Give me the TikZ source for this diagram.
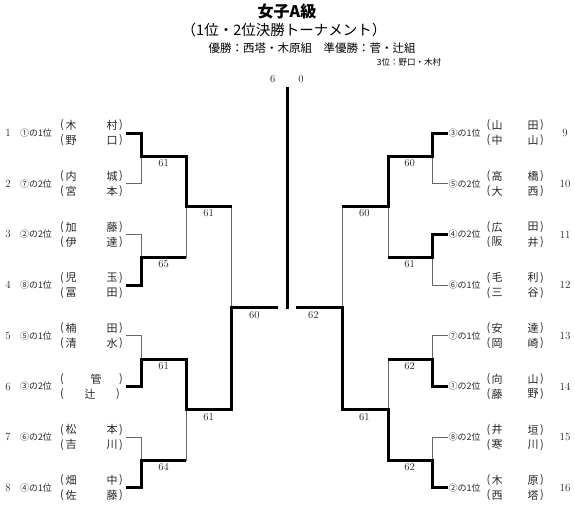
\documentclass[tikz,border=0pt]{standalone}
\usepackage{fontspec}
\newfontfamily\jp{Noto Sans CJK JP}
\begin{document}
\begin{tikzpicture}[x=1pt,y=-1pt,
  thinl/.style={line width=0.9pt,black!60},
  thickl/.style={line width=3pt,black,line join=miter},
  score/.style={font=\fontsize{10.5}{11}\selectfont,inner sep=0pt,text=black!85},
  seed/.style={font=\jp\fontsize{9}{10}\selectfont,inner sep=0pt,text=black!85},
  nm/.style={font=\jp\fontsize{11}{12}\selectfont,inner sep=0pt,text=black!85},
  num/.style={font=\fontsize{11}{12}\selectfont,inner sep=0pt,text=black!85},
]
\useasboundingbox (0,0) rectangle (575,508);

% ---------- titles ----------
\node[font=\jp\bfseries\fontsize{16}{18}\selectfont,inner sep=0pt] (t1) at (287,11) {女子A級};
\node[font=\jp\fontsize{14.5}{16}\selectfont,inner sep=0pt] (t2) at (284,30) {（1位・2位決勝トーナメント）};
\node[font=\jp\fontsize{11.5}{13}\selectfont,inner sep=0pt] (t3) at (312,48) {優勝：西塔・木原組　準優勝：菅・辻組};
\node[font=\jp\fontsize{8.5}{10}\selectfont,inner sep=0pt] (t4) at (409,62) {3位：野口・木村};

% ---------- left entries ----------
\foreach \k/\y/\s/\a/\b/\c/\d in {
  1/133/①の1位/木/村/野/口,
  2/183.7/⑦の2位/内/城/宮/本,
  3/234.4/②の2位/加/藤/伊/達,
  4/285.1/⑧の1位/児/玉/冨/田,
  5/335.8/⑤の1位/楠/田/清/水,
  7/437.2/⑥の2位/松/本/吉/川,
  8/487.9/④の1位/畑/中/佐/藤}{
  \node[num] (ln\k) at (8,\y) {\k};
  \node[seed] (ls\k) at (36,\y) {\s};
  \node[nm] (lpa\k) at (62,\y-7.5) {(};
  \node[nm] (lca\k) at (71,\y-7.5) {\a};
  \node[nm] (lcb\k) at (112,\y-7.5) {\b};
  \node[nm] (lpb\k) at (121,\y-7.5) {)};
  \node[nm] (lpc\k) at (62,\y+7.5) {(};
  \node[nm] (lcc\k) at (71,\y+7.5) {\c};
  \node[nm] (lcd\k) at (112,\y+7.5) {\d};
  \node[nm] (lpd\k) at (121,\y+7.5) {)};
  \coordinate (L\k) at (126,\y);
}
% team 6 (single-character names)
\node[num] (ln6) at (8,386.5) {6};
\node[seed] (ls6) at (36,386.5) {③の2位};
\node[nm] (lpa6) at (62,379) {(};
\node[nm] (lca6) at (96,379) {管};
\node[nm] (lpb6) at (121,379) {)};
\node[nm] (lpc6) at (62,394) {(};
\node[nm] (lcc6) at (90,394) {辻};
\node[nm] (lpd6) at (118,394) {)};
\coordinate (L6) at (126,386.5);

% ---------- right entries ----------
\foreach \k/\y/\s/\a/\b/\c/\d in {
  9/133/③の1位/山/田/中/山,
  10/183.7/⑤の2位/高/橋/大/西,
  11/234.4/④の2位/広/田/阪/井,
  12/285.1/⑥の1位/毛/利/三/谷,
  13/335.8/⑦の1位/安/達/岡/崎,
  14/386.5/①の2位/向/山/藤/野,
  15/437.2/⑧の2位/井/垣/寒/川,
  16/487.9/②の1位/木/原/西/塔}{
  \node[num] (rn\k) at (565,\y) {\k};
  \node[seed,anchor=west] (rs\k) at (448.5,\y) {\s};
  \node[nm] (rpa\k) at (488.5,\y-7.5) {(};
  \node[nm] (rca\k) at (497,\y-7.5) {\a};
  \node[nm] (rcb\k) at (533,\y-7.5) {\b};
  \node[nm] (rpb\k) at (542,\y-7.5) {)};
  \node[nm] (rpc\k) at (488.5,\y+7.5) {(};
  \node[nm] (rcc\k) at (497,\y+7.5) {\c};
  \node[nm] (rcd\k) at (533,\y+7.5) {\d};
  \node[nm] (rpd\k) at (542,\y+7.5) {)};
  \coordinate (R\k) at (448,\y);
}

% ---------- junction coordinates ----------
\coordinate (M1) at (141.7,156.4);
\coordinate (M2) at (141.7,257.7);
\coordinate (M3) at (141.7,359.2);
\coordinate (M4) at (141.7,460.5);
\coordinate (N1) at (186,206);
\coordinate (N2) at (186,409);
\coordinate (P1) at (231.7,307.5);
\coordinate (F1) at (277.7,307.5);

\coordinate (MR1) at (432.3,156.4);
\coordinate (MR2) at (432.3,257.7);
\coordinate (MR3) at (432.3,359.2);
\coordinate (MR4) at (432.3,460.5);
\coordinate (NR1) at (388,206);
\coordinate (NR2) at (388,409);
\coordinate (PR1) at (342.3,307.5);
\coordinate (FR1) at (296.3,307.5);

\coordinate (C0) at (287,87);
\coordinate (C1) at (287,308.5);

% ---------- thin (losing) lines ----------
\draw[thinl] (L2) -- (L2 -| M1) -- (M1);
\draw[thinl] (L3) -- (L3 -| M2) -- (M2);
\draw[thinl] (L5) -- (L5 -| M3) -- (M3);
\draw[thinl] (L7) -- (L7 -| M4) -- (M4);
\draw[thinl] (M2 -| N1) -- (N1);
\draw[thinl] (M4 -| N2) -- (N2);
\draw[thinl] (N1 -| P1) -- (P1);

\draw[thinl] (R10) -- (R10 -| MR1) -- (MR1);
\draw[thinl] (R12) -- (R12 -| MR2) -- (MR2);
\draw[thinl] (R13) -- (R13 -| MR3) -- (MR3);
\draw[thinl] (R15) -- (R15 -| MR4) -- (MR4);
\draw[thinl] (MR2 -| NR1) -- (NR1);
\draw[thinl] (MR3 -| NR2) -- (NR2);
\draw[thinl] (NR1 -| PR1) -- (PR1);

% ---------- thick (winning) lines ----------
\draw[thickl] (L1) -- (L1 -| M1) -- (M1) -- (M1 -| N1) -- (N1) -- (N1 -| P1);
\draw[thickl] (L4) -- (L4 -| M2) -- (M2) -- (M2 -| N1);
\draw[thickl] (L6) -- (L6 -| M3) -- (M3) -- (M3 -| N2) -- (N2) -- (N2 -| P1) -- (P1) -- (F1);
\draw[thickl] (L8) -- (L8 -| M4) -- (M4) -- (M4 -| N2);

\draw[thickl] (R9) -- (R9 -| MR1) -- (MR1) -- (MR1 -| NR1) -- (NR1) -- (NR1 -| PR1);
\draw[thickl] (R11) -- (R11 -| MR2) -- (MR2) -- (MR2 -| NR1);
\draw[thickl] (R14) -- (R14 -| MR3) -- (MR3) -- (MR3 -| NR2);
\draw[thickl] (R16) -- (R16 -| MR4) -- (MR4) -- (MR4 -| NR2) -- (NR2) -- (NR2 -| PR1) -- (PR1) -- (FR1);

\draw[thickl] (C0) -- (C1);

% ---------- scores ----------
\node[score] (s1) at (163.5,163) {61};
\node[score] (s2) at (163.5,264.5) {65};
\node[score] (s3) at (163.5,366) {61};
\node[score] (s4) at (163.5,467.5) {64};
\node[score] (s5) at (208.5,213.3) {61};
\node[score] (s6) at (208.5,416.7) {61};
\node[score] (s7) at (254.3,315) {60};

\node[score] (s8) at (409.5,163) {60};
\node[score] (s9) at (409.5,264.5) {61};
\node[score] (s10) at (409.5,366) {62};
\node[score] (s11) at (409.5,467.5) {62};
\node[score] (s12) at (364.3,213.3) {60};
\node[score] (s13) at (364.3,416.7) {61};
\node[score] (s14) at (313.3,315.5) {62};

\node[score] (f1) at (272.7,79) {6};
\node[score] (f2) at (301,79) {0};
\end{tikzpicture}
\end{document}
